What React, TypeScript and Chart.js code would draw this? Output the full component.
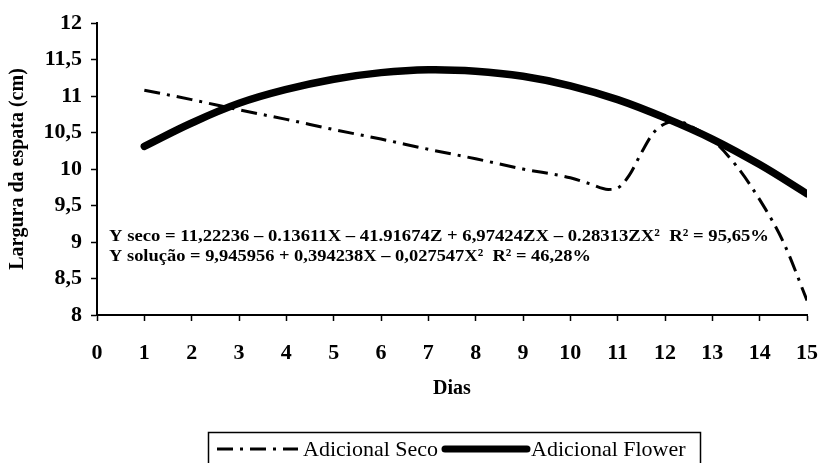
import React, { useEffect, useRef } from "react";
import { Chart, registerables } from "chart.js";

Chart.register(...registerables);

const SERIF = "'Liberation Serif', 'Times New Roman', serif";

// Days (x) and fitted widths for each treatment
const flowerDays = [1, 2, 3, 4, 5, 6, 7, 8, 9, 10, 11, 12, 13, 14, 15];
const flowerWidth = [10.31, 10.63, 10.9, 11.09, 11.23, 11.32, 11.36, 11.34, 11.27, 11.14, 10.95, 10.7, 10.41, 10.06, 9.66];

const secoDays = [1, 2, 3, 4, 5, 6, 7, 8, 9, 10, 10.4, 10.8, 11.0, 11.25, 11.5, 11.75, 12, 12.25, 12.5, 13, 13.5, 14, 14.5, 15];
const secoWidth = [11.08, 10.95, 10.81, 10.68, 10.54, 10.41, 10.27, 10.14, 10.0, 9.88, 9.8, 9.72, 9.74, 9.92, 10.22, 10.49, 10.62, 10.66, 10.6, 10.4, 10.05, 9.58, 9.0, 8.2];

const yMin = 8;
const yMax = 12;
const yStep = 0.5;
const xMin = 0;
const xMax = 15;

const seriesNames = ["Adicional Seco", "Adicional Flower"];
const xTitle = "Dias";
const yTitle = "Largura da espata (cm)";
const equationLines = [
  "Y seco = 11,22236 \u2013 0.13611X \u2013 41.91674Z + 6,97424ZX \u2013 0.28313ZX\u00B2  R\u00B2 = 95,65%",
  "Y solu\u00E7\u00E3o = 9,945956 + 0,394238X \u2013 0,027547X\u00B2  R\u00B2 = 46,28%",
];

const DASH_DOT = [16, 7, 3, 7];

const overlayPlugin = {
  id: "overlay",
  afterDraw(chart: any) {
    const ctx = chart.ctx as CanvasRenderingContext2D;
    ctx.save();
    ctx.fillStyle = "#000";
    ctx.textBaseline = "middle";
    ctx.textAlign = "left";

    // regression equations, fitted to their printed widths
    const eq = [
      { text: equationLines[0], x: 109, y: 237, w: 660 },
      { text: equationLines[1], x: 109, y: 257, w: 482 },
    ];
    ctx.font = `bold 17px ${SERIF}`;
    for (const e of eq) {
      const m = ctx.measureText(e.text).width;
      ctx.save();
      ctx.translate(e.x, e.y);
      ctx.scale(e.w / m, 1);
      ctx.fillText(e.text, 0, 0);
      ctx.restore();
    }

    // legend box
    ctx.strokeStyle = "#000";
    ctx.lineWidth = 1.5;
    ctx.strokeRect(208.5, 432.5, 492, 40);

    const ly = 449;
    ctx.lineCap = "butt";
    ctx.setLineDash(DASH_DOT);
    ctx.lineWidth = 3;
    ctx.beginPath();
    ctx.moveTo(217, ly);
    ctx.lineTo(298, ly);
    ctx.stroke();
    ctx.setLineDash([]);

    ctx.lineWidth = 7;
    ctx.lineCap = "round";
    ctx.beginPath();
    ctx.moveTo(445, ly);
    ctx.lineTo(527, ly);
    ctx.stroke();

    ctx.font = `22px ${SERIF}`;
    ctx.fillText(seriesNames[0], 303, ly + 1);
    ctx.fillText(seriesNames[1], 531, ly + 1);
    ctx.restore();
  },
};

export default function App() {
  const ref = useRef<HTMLCanvasElement | null>(null);

  useEffect(() => {
    if (!ref.current) return;
    const chart = new Chart(ref.current, {
      type: "line",
      data: {
        datasets: [
          {
            label: seriesNames[0],
            data: secoDays.map((d, i) => ({ x: d, y: secoWidth[i] })),
            borderColor: "#000",
            borderWidth: 3,
            borderDash: DASH_DOT,
            pointRadius: 0,
            cubicInterpolationMode: "monotone",
            fill: false,
          },
          {
            label: seriesNames[1],
            data: flowerDays.map((d, i) => ({ x: d, y: flowerWidth[i] })),
            borderColor: "#000",
            borderWidth: 7.5,
            borderCapStyle: "round",
            pointRadius: 0,
            tension: 0.4,
            fill: false,
          },
        ],
      },
      options: {
        animation: false,
        responsive: false,
        maintainAspectRatio: false,
        layout: { padding: { top: 23, right: 12, left: 0, bottom: 0 } },
        plugins: {
          legend: { display: false },
          tooltip: { enabled: false },
        },
        scales: {
          x: {
            type: "linear",
            min: xMin,
            max: xMax,
            afterFit: (s: any) => {
              s.height = 148;
              s.paddingLeft = 0;
              s.paddingRight = 0;
            },
            ticks: {
              stepSize: 1,
              color: "#000",
              padding: 19,
              font: { family: SERIF, size: 22, weight: "bold" },
            },
            grid: {
              drawOnChartArea: false,
              drawTicks: true,
              tickLength: 6,
              tickColor: "#000",
              tickWidth: 1.5,
            },
            border: { color: "#000", width: 2 },
            title: {
              display: true,
              text: xTitle,
              color: "#000",
              font: { family: SERIF, size: 20, weight: "bold" },
              padding: { top: 0, bottom: 62 },
            },
          },
          y: {
            type: "linear",
            min: yMin,
            max: yMax,
            afterFit: (s: any) => {
              s.width = 97;
              s.paddingTop = 0;
              s.paddingBottom = 0;
            },
            ticks: {
              stepSize: yStep,
              color: "#000",
              padding: 9,
              font: { family: SERIF, size: 22, weight: "bold" },
              callback: (v: any) => String(v).replace(".", ","),
            },
            grid: {
              drawOnChartArea: false,
              drawTicks: true,
              tickLength: 6,
              tickColor: "#000",
              tickWidth: 1.5,
            },
            border: { color: "#000", width: 2 },
            title: {
              display: true,
              text: yTitle,
              color: "#000",
              font: { family: SERIF, size: 20, weight: "bold" },
              padding: { top: 6, bottom: 0 },
            },
          },
        },
      },
      plugins: [overlayPlugin],
    });
    return () => chart.destroy();
  }, []);

  return (
    <div style={{ position: "absolute", left: 0, top: 0, width: 819, height: 463, background: "#fff" }}>
      <canvas ref={ref} width={819} height={463} style={{ display: "block" }} />
    </div>
  );
}
